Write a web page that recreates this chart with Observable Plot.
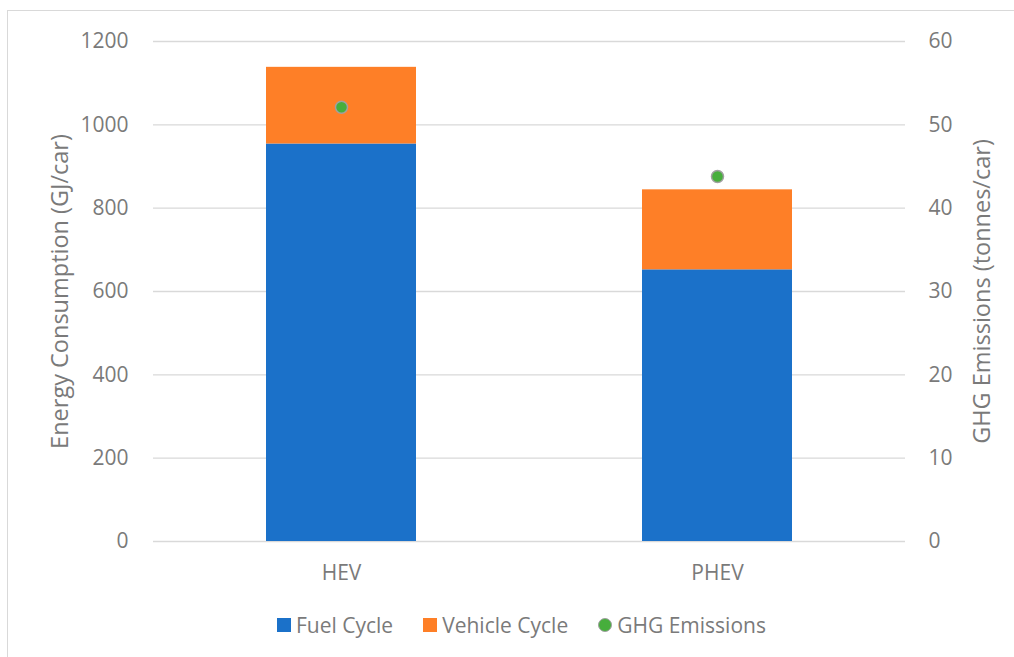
<!DOCTYPE html>
<html>
<head>
<meta charset="utf-8">
<script src="https://cdn.jsdelivr.net/npm/d3@7"></script>
<script src="https://cdn.jsdelivr.net/npm/@observablehq/plot@0.6"></script>
<style>
  html, body { margin: 0; padding: 0; background: #fff; overflow: hidden; }
  #wrap { position: relative; width: 1014px; height: 657px; overflow: hidden; font-family: "Open Sans", sans-serif; }
  #border { position: absolute; left: 7px; top: 10px; width: 1100px; height: 800px; border: 1px solid #d9d9d9; box-sizing: border-box; }
  #chart { position: absolute; left: 0; top: 0; }
  #legend { position: absolute; left: 277px; top: 611px; display: flex; align-items: center; font-size: 21px; color: #7a7a7a; white-space: nowrap; }
  .item { display: flex; align-items: center; margin-right: 30px; }
  .sw { width: 14px; height: 14px; margin-right: 5px; }
  .dot { width: 14px; height: 14px; box-sizing: border-box; border-radius: 50%; border: 1.6px solid #a0a0a0; margin-right: 5px; }
</style>
</head>
<body>
<div id="wrap">
  <div id="border"></div>
  <div id="chart"></div>
  <div id="legend"></div>
</div>
<script>
// ---- data ----
const vehicles = ["HEV", "PHEV"];
const series = ["Fuel Cycle", "Vehicle Cycle"];
const fuelCycle = [954, 652];       // GJ/car
const vehicleCycle = [184, 192];    // GJ/car
const ghgEmissions = [52.1, 43.8];  // tonnes/car
const leftTicks = [0, 200, 400, 600, 800, 1000, 1200];
const rightTicks = [0, 10, 20, 30, 40, 50, 60];
const colors = ["#1b71c9", "#fe7f27"];
const ghgColor = "#47ae3c";
const leftTitle = "Energy Consumption (GJ/car)";
const rightTitle = "GHG Emissions (tonnes/car)";

// ---- build tables ----
const barData = [];
vehicles.forEach((v, i) => {
  barData.push({vehicle: v, series: series[0], value: fuelCycle[i]});
  barData.push({vehicle: v, series: series[1], value: vehicleCycle[i]});
});
const ghgData = vehicles.map((v, i) => ({vehicle: v, ghg: ghgEmissions[i]}));
const ratio = leftTicks[leftTicks.length - 1] / rightTicks[rightTicks.length - 1];

const textColor = "#7a7a7a";
const chart = Plot.plot({
  width: 1014,
  height: 600,
  marginLeft: 153,
  marginRight: 109,
  marginTop: 41,
  marginBottom: 59,
  style: {fontFamily: "'Open Sans', sans-serif", fontSize: "21px", color: textColor, background: "transparent"},
  x: {domain: vehicles, paddingInner: 0.6, paddingOuter: 0.3},
  y: {domain: [leftTicks[0], leftTicks[leftTicks.length - 1]]},
  color: {domain: series, range: colors},
  marks: [
    Plot.gridY(leftTicks, {stroke: "#d9d9d9", strokeOpacity: 1, strokeWidth: 1.3}),
    Plot.barY(barData, {x: "vehicle", y: "value", fill: "series", order: series}),
    Plot.dot(ghgData, {x: "vehicle", y: d => d.ghg * ratio, r: 6, fill: ghgColor, stroke: "#a0a0a0", strokeWidth: 1.5}),
    Plot.axisX({tickSize: 0, tickPadding: 24, label: null, fontSize: 21}),
    Plot.axisY({anchor: "left", ticks: leftTicks, tickFormat: d => String(d), tickSize: 0, tickPadding: 25, label: null, fontSize: 21}),
    Plot.axisY({anchor: "right", ticks: rightTicks.map(v => v * ratio), tickFormat: d => String(d / ratio), tickSize: 0, tickPadding: 23, label: null, fontSize: 21}),
    Plot.text([leftTitle], {text: d => d, frameAnchor: "left", textAnchor: "middle", lineAnchor: "middle", dx: -93, rotate: -90, fontSize: 23.5, fill: textColor}),
    Plot.text([rightTitle], {text: d => d, frameAnchor: "right", textAnchor: "middle", lineAnchor: "middle", dx: 77, rotate: -90, fontSize: 23.5, fill: textColor})
  ]
});
document.getElementById("chart").appendChild(chart);

// ---- legend ----
const legend = document.getElementById("legend");
series.forEach((s, i) => {
  const it = document.createElement("div");
  it.className = "item";
  it.innerHTML = `<span class="sw" style="background:${colors[i]}"></span><span>${s}</span>`;
  legend.appendChild(it);
});
const g = document.createElement("div");
g.className = "item";
g.innerHTML = `<span class="dot" style="background:${ghgColor}"></span><span>GHG Emissions</span>`;
legend.appendChild(g);
</script>
</body>
</html>
